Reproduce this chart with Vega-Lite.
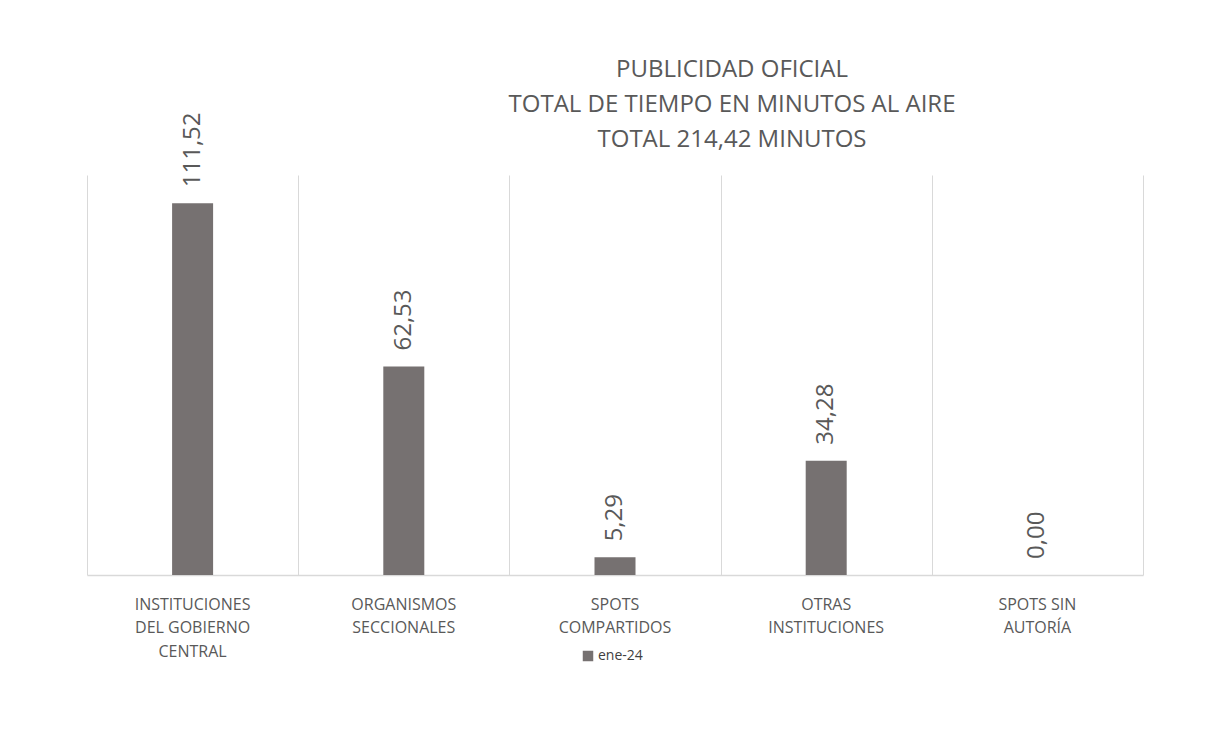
{
  "$schema": "https://vega.github.io/schema/vega-lite/v6.json",
  "autosize": {"type": "none"},
  "width": 1056,
  "height": 400,
  "padding": {"left": 87, "top": 175, "right": 74, "bottom": 162},
  "background": "white",
  "config": {
    "locale": {"number": {"decimal": ",", "thousands": ".", "grouping": [3], "currency": ["$", ""]}},
    "view": {"stroke": null},
    "font": "Open Sans"
  },
  "title": {
    "text": ["PUBLICIDAD OFICIAL", "TOTAL DE TIEMPO EN MINUTOS AL AIRE", "TOTAL 214,42 MINUTOS"],
    "font": "Open Sans",
    "fontSize": 24,
    "fontWeight": "normal",
    "color": "#595959",
    "lineHeight": 35,
    "anchor": "middle",
    "dx": 117,
    "dy": 62,
    "offset": 22
  },
  "data": {
    "values": [
      {"categoria": "INSTITUCIONES DEL GOBIERNO CENTRAL", "orden": 1, "serie": "ene-24", "minutos": 111.52},
      {"categoria": "ORGANISMOS SECCIONALES", "orden": 2, "serie": "ene-24", "minutos": 62.53},
      {"categoria": "SPOTS COMPARTIDOS", "orden": 3, "serie": "ene-24", "minutos": 5.29},
      {"categoria": "OTRAS INSTITUCIONES", "orden": 4, "serie": "ene-24", "minutos": 34.28},
      {"categoria": "SPOTS SIN AUTORÍA", "orden": 5, "serie": "ene-24", "minutos": 0}
    ]
  },
  "encoding": {
    "y": {
      "field": "minutos",
      "type": "quantitative",
      "scale": {"domain": [0, 120], "nice": false},
      "axis": null
    }
  },
  "layer": [
    {
      "mark": {"type": "bar", "width": 41},
      "encoding": {
        "x": {
          "field": "categoria",
          "type": "nominal",
          "sort": {"field": "orden"},
          "scale": {"paddingInner": 0, "paddingOuter": 0},
          "axis": {
            "orient": "bottom",
            "title": null,
            "grid": true,
            "gridColor": "#d9d9d9",
            "gridWidth": 1,
            "tickBand": "extent",
            "ticks": false,
            "labels": false,
            "domainColor": "#d9d9d9",
            "domainWidth": 1.5
          }
        },
        "color": {
          "field": "serie",
          "type": "nominal",
          "scale": {"range": ["#767171"]},
          "legend": {
            "title": null,
            "orient": "none",
            "legendX": 494,
            "legendY": 474,
            "direction": "horizontal",
            "symbolType": "square",
            "symbolSize": 110,
            "symbolStrokeWidth": 0,
            "labelFont": "Open Sans",
            "labelFontSize": 14,
            "labelColor": "#404040",
            "labelOffset": 3
          }
        }
      }
    },
    {
      "mark": {
        "type": "text",
        "angle": 270,
        "align": "left",
        "baseline": "middle",
        "dx": 16,
        "font": "Open Sans",
        "fontSize": 24,
        "color": "#595959"
      },
      "encoding": {
        "x": {
          "field": "categoria",
          "type": "nominal",
          "sort": {"field": "orden"},
          "axis": {
            "orient": "bottom",
            "title": null,
            "grid": false,
            "ticks": false,
            "domain": false,
            "labelAngle": 0,
            "labelFont": "Open Sans",
            "labelFontSize": 16,
            "labelColor": "#595959",
            "labelPadding": 34,
            "labelLineHeight": 23.5,
            "labelBaseline": "alphabetic",
            "labelExpr": "datum.label == 'INSTITUCIONES DEL GOBIERNO CENTRAL' ? ['INSTITUCIONES', 'DEL GOBIERNO', 'CENTRAL'] : datum.label == 'ORGANISMOS SECCIONALES' ? ['ORGANISMOS', 'SECCIONALES'] : datum.label == 'SPOTS COMPARTIDOS' ? ['SPOTS', 'COMPARTIDOS'] : datum.label == 'OTRAS INSTITUCIONES' ? ['OTRAS', 'INSTITUCIONES'] : ['SPOTS SIN', 'AUTORÍA']"
          }
        },
        "text": {"field": "minutos", "type": "quantitative", "format": ".2f"}
      }
    }
  ],
  "resolve": {"axis": {"x": "independent"}}
}
